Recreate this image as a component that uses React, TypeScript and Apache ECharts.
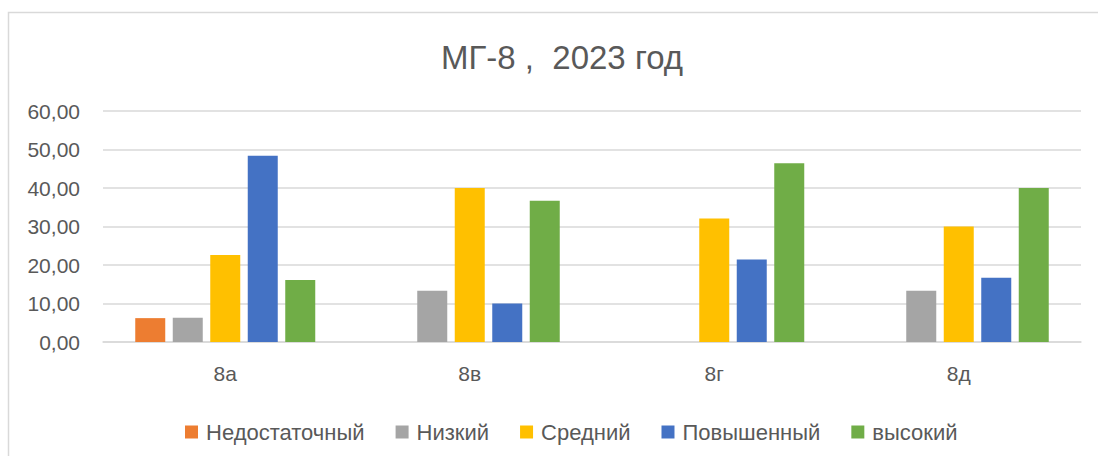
import React, { useEffect, useRef } from "react";
import * as echarts from "echarts";

const categories = ["8а", "8в", "8г", "8д"];
const seriesNames = ["Недостаточный", "Низкий", "Средний", "Повышенный", "высокий"];
const insufficient = [6.2, 0, 0, 0];
const low = [6.3, 13.3, 0, 13.3];
const medium = [22.6, 40.0, 32.1, 30.0];
const elevated = [48.4, 10.0, 21.4, 16.7];
const high = [16.1, 36.7, 46.4, 40.0];
const yTicks = [0, 10, 20, 30, 40, 50, 60];
const colors = ["#ED7D31", "#A5A5A5", "#FFC000", "#4472C4", "#70AD47"];

const FONT = "Liberation Sans";

export default function App() {
  const ref = useRef<HTMLDivElement>(null);
  useEffect(() => {
    if (!ref.current) return;
    const chart = echarts.init(ref.current, null, { renderer: "svg" });
    const values = [insufficient, low, medium, elevated, high];
    chart.setOption({
      animation: false,
      backgroundColor: "#ffffff",
      title: {
        text: "МГ-8 ,  2023 год",
        left: 557,
        textAlign: "center",
        top: 36,
        textStyle: { fontFamily: FONT, fontSize: 33, fontWeight: "normal", color: "#595959" },
      },
      graphic: [
        {
          type: "rect",
          shape: { x: 8.5, y: 12.5, width: 1100, height: 460 },
          style: { fill: "none", stroke: "#d9d9d9", lineWidth: 1.5 },
          silent: true,
        },
      ],
      legend: {
        left: 180,
        top: 416,
        itemWidth: 13,
        itemHeight: 13,
        itemGap: 31,
        icon: "rect",
        textStyle: { fontFamily: FONT, fontSize: 22, color: "#595959", padding: [0, 0, 0, 3] },
        data: seriesNames,
      },
      grid: { left: 103, right: 17, top: 111, bottom: 114 },
      xAxis: {
        type: "category",
        data: categories,
        axisLine: { lineStyle: { color: "#d9d9d9", width: 1.5 } },
        axisTick: { show: false },
        axisLabel: { fontFamily: FONT, fontSize: 21, color: "#595959", margin: 21 },
      },
      yAxis: {
        type: "value",
        min: yTicks[0],
        max: yTicks[yTicks.length - 1],
        interval: 10,
        axisLine: { show: false },
        axisTick: { show: false },
        splitLine: { lineStyle: { color: "#d9d9d9", width: 1.5 } },
        axisLabel: {
          fontFamily: FONT,
          fontSize: 21,
          color: "#595959",
          margin: 23,
          formatter: (v: number) => v.toFixed(2).replace(".", ","),
        },
      },
      series: seriesNames.map((name, i) => ({
        name,
        type: "bar",
        data: values[i],
        barWidth: 30,
        barGap: "25%",
        itemStyle: { color: colors[i] },
      })),
    });
    return () => chart.dispose();
  }, []);
  return (
    <div
      ref={ref}
      style={{ position: "fixed", left: 0, top: 0, width: 1098, height: 456 }}
    />
  );
}
